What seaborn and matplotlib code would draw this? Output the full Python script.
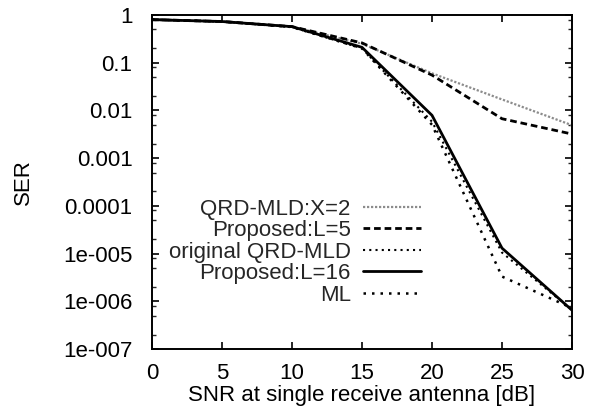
import numpy as np
import pandas as pd
import seaborn as sns
import matplotlib
matplotlib.use("Agg")
import matplotlib.pyplot as plt
from matplotlib.ticker import LogLocator, FixedLocator, FixedFormatter, NullFormatter

snr = [0, 5, 10, 15, 20, 25, 30]
qrd_x2 = [0.80, 0.73, 0.57, 0.25, 0.060, 0.017, 0.0049]
prop_l5 = [0.80, 0.73, 0.57, 0.26, 0.055, 0.0067, 0.0032]
orig_qrd = [0.80, 0.73, 0.56, 0.20, 0.0058, 1.05e-5, 6.6e-7]
prop_l16 = [0.80, 0.73, 0.57, 0.21, 0.0079, 1.3e-5, 6.5e-7]
ml = [0.80, 0.73, 0.56, 0.20, 0.0050, 3.3e-6, 7.2e-7]

labels = ["QRD-MLD:X=2", "Proposed:L=5", "original QRD-MLD", "Proposed:L=16", "ML"]
series = [qrd_x2, prop_l5, orig_qrd, prop_l16, ml]
ytick_vals = [1, 0.1, 0.01, 0.001, 0.0001, 1e-5, 1e-6, 1e-7]
ytick_labels = ["1", "0.1", "0.01", "0.001", "0.0001", "1e-005", "1e-006", "1e-007"]

df = pd.concat([pd.DataFrame({"SNR": snr, "SER": s, "method": l}) for s, l in zip(series, labels)])

sns.set_theme(style="ticks")
plt.rcParams["font.family"] = ["Liberation Sans", "DejaVu Sans"]

fig = plt.figure(figsize=(5.97, 4.18), dpi=100)
ax = fig.add_axes([152/597, 1-349/418, 420/597, 334/418])

styles = {
    "QRD-MLD:X=2": dict(color="#8c8c8c", lw=1.6, ls=(0, (1, 0.8))),
    "Proposed:L=5": dict(color="black", lw=2.0, ls=(0, (2.4, 1.4))),
    "original QRD-MLD": dict(color="black", lw=1.5, ls=(0, (1, 2.0))),
    "Proposed:L=16": dict(color="black", lw=2.0, ls="-"),
    "ML": dict(color="black", lw=1.8, ls=(0, (1, 2.4))),
}
for l in labels:
    sub = df[df["method"] == l]
    st = styles[l]
    sns.lineplot(data=sub, x="SNR", y="SER", ax=ax, color=st["color"], linewidth=st["lw"],
                 linestyle=st["ls"], label=l, legend=False)

ax.set_yscale("log")
ax.set_xlim(0, 30)
ax.set_ylim(1e-7, 1)
ax.set_xticks(snr)
ax.set_xticklabels([str(v) for v in snr])
ax.yaxis.set_major_locator(FixedLocator(ytick_vals))
ax.yaxis.set_major_formatter(FixedFormatter(ytick_labels))
ax.yaxis.set_minor_locator(LogLocator(base=10, subs=[2, 5, 8], numticks=20))
ax.yaxis.set_minor_formatter(NullFormatter())

fs = 16
ax.tick_params(axis="both", which="major", direction="in", length=5, width=1.2,
               top=True, right=True, labelsize=fs, color="black", labelcolor="black")
ax.tick_params(axis="y", which="major", pad=14)
ax.tick_params(axis="x", which="major", pad=10)
ax.tick_params(axis="y", which="minor", direction="in", length=3, width=1.0, right=True, left=True)
ax.tick_params(axis="x", which="minor", bottom=False, top=False)
for sp in ax.spines.values():
    sp.set_linewidth(1.4)
    sp.set_color("black")
ax.set_facecolor("white")
ax.grid(False)

ax.set_xlabel("SNR at single receive antenna [dB]", fontsize=fs, color="black", labelpad=1)
ax.set_ylabel("SER", fontsize=fs, color="black")
ax.yaxis.set_label_coords(-0.28, 0.5)

leg = ax.legend(loc="center", bbox_to_anchor=(0.34, 0.29), frameon=False, markerfirst=False,
                fontsize=fs, handlelength=2.6, handletextpad=0.55, labelspacing=0.02,
                borderpad=0, borderaxespad=0)
for t in leg.get_texts():
    t.set_ha("right")

fig.savefig("out.png", dpi=100, facecolor="white")
